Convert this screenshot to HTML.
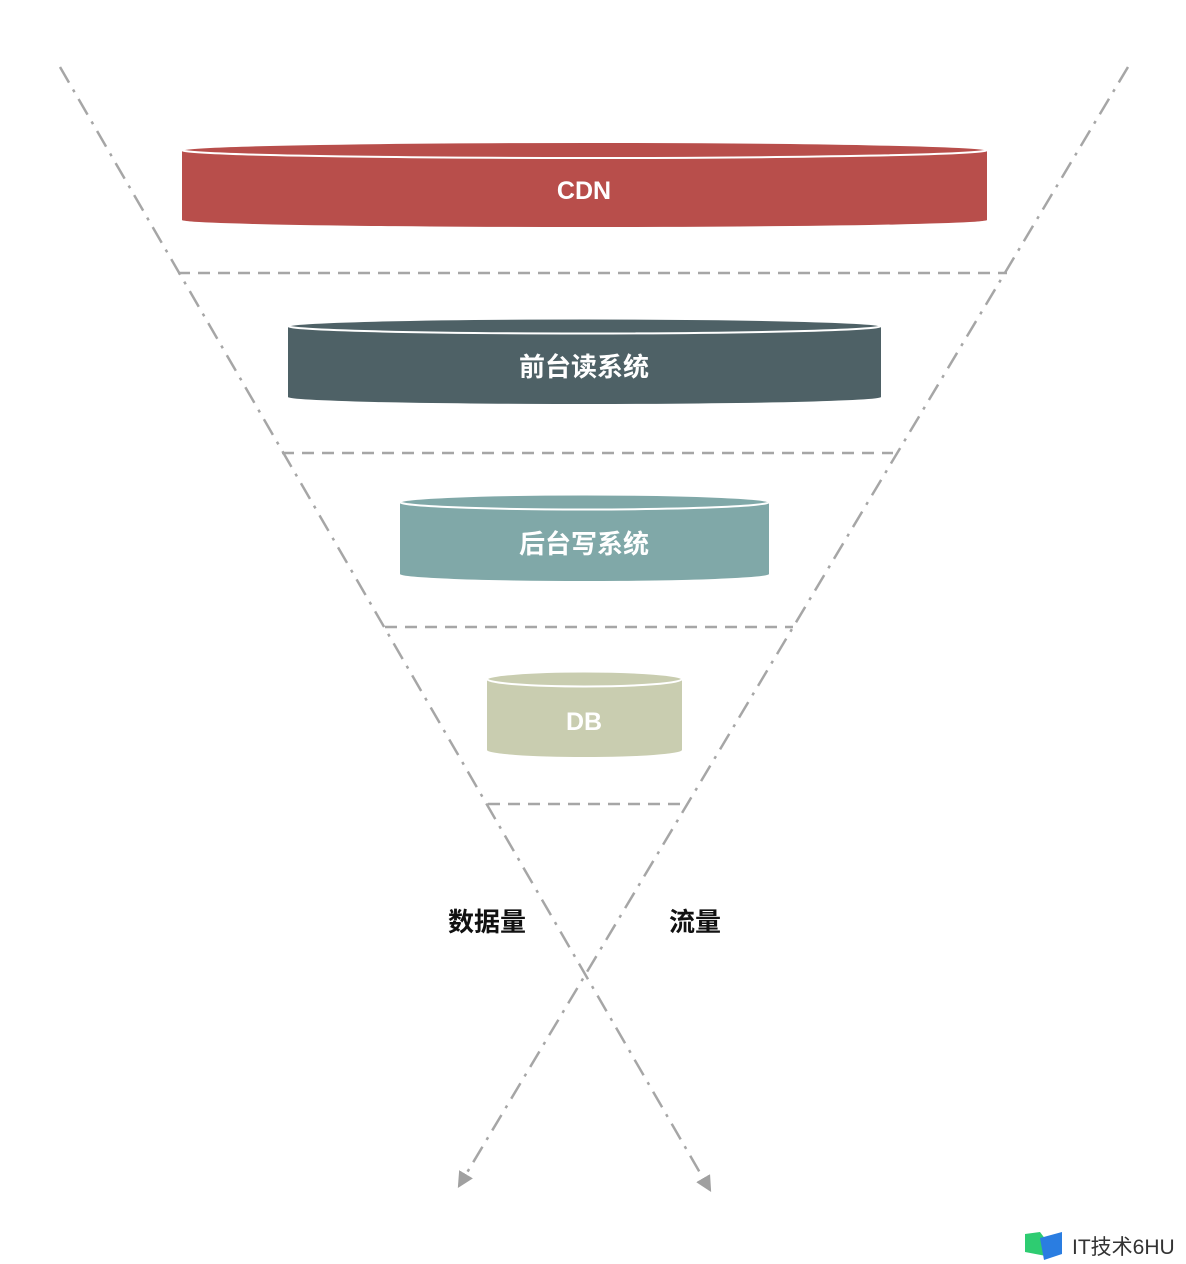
<!DOCTYPE html>
<html><head><meta charset="utf-8"><style>
html,body{margin:0;padding:0;background:#fff;}
svg{display:block}
text{font-family:"Liberation Sans","Noto Sans CJK SC",sans-serif;font-weight:bold;}
</style></head><body>
<svg width="1186" height="1264" viewBox="0 0 1186 1264" xmlns="http://www.w3.org/2000/svg">
<defs>
<marker id="ah" markerWidth="16" markerHeight="16" refX="12" refY="7" orient="auto" markerUnits="userSpaceOnUse" viewBox="0 0 14 14">
<path d="M0,0 L14,7 L0,14 z" fill="#a0a0a0"/></marker>
</defs>
<g stroke="#a6a6a6" stroke-width="2.5" fill="none">
<line x1="60" y1="67" x2="710" y2="1190" stroke-dasharray="18,8,3,8" marker-end="url(#ah)"/>
<line x1="1128" y1="67" x2="459" y2="1186" stroke-dasharray="18,8,3,8" marker-end="url(#ah)"/>
<g stroke-dasharray="12,8">
<line x1="178" y1="273" x2="1007" y2="273"/>
<line x1="282" y1="453" x2="893" y2="453"/>
<line x1="385" y1="627" x2="793" y2="627"/>
<line x1="488" y1="804" x2="682" y2="804"/>
</g>
</g>
<!-- CDN -->
<path d="M182,150 L182,220 A402.5,7 0 0 0 987,220 L987,150 Z" fill="#b84e4b"/>
<ellipse cx="584.5" cy="150" rx="402.5" ry="8" fill="#b84e4b" stroke="#fff" stroke-width="2"/>
<text x="584" y="199" fill="#fff" font-size="25" text-anchor="middle">CDN</text>
<!-- read -->
<path d="M288,326 L288,397 A296.5,7 0 0 0 881,397 L881,326 Z" fill="#4e6166"/>
<ellipse cx="584.5" cy="326" rx="296.5" ry="7.5" fill="#4e6166" stroke="#fff" stroke-width="2"/>
<text x="584" y="376" fill="#fff" font-size="26" text-anchor="middle">前台读系统</text>
<!-- write -->
<path d="M400,502 L400,574 A184.5,7 0 0 0 769,574 L769,502 Z" fill="#80a8a8"/>
<ellipse cx="584.5" cy="502" rx="184.5" ry="7.5" fill="#80a8a8" stroke="#fff" stroke-width="2"/>
<text x="584" y="553" fill="#fff" font-size="26" text-anchor="middle">后台写系统</text>
<!-- DB -->
<path d="M487,679 L487,750 A97.5,7 0 0 0 682,750 L682,679 Z" fill="#c9cdb0"/>
<ellipse cx="584.5" cy="679" rx="97.5" ry="7.5" fill="#c9cdb0" stroke="#fff" stroke-width="2"/>
<text x="584" y="730" fill="#fff" font-size="25" text-anchor="middle">DB</text>
<text x="487" y="931" fill="#111" font-size="26" text-anchor="middle">数据量</text>
<text x="695" y="931" fill="#111" font-size="26" text-anchor="middle">流量</text>
<!-- watermark -->
<path d="M1025,1234 L1040,1232 L1046,1240 L1046,1256 L1025,1252 Z" fill="#2ecc71"/>
<path d="M1040,1238 L1062,1232 L1062,1254 L1044,1260 Z" fill="#2a7de1"/>
<text x="1072" y="1254" fill="#333" font-size="21" style="font-weight:normal">IT技术6HU</text>
</svg>
</body></html>
